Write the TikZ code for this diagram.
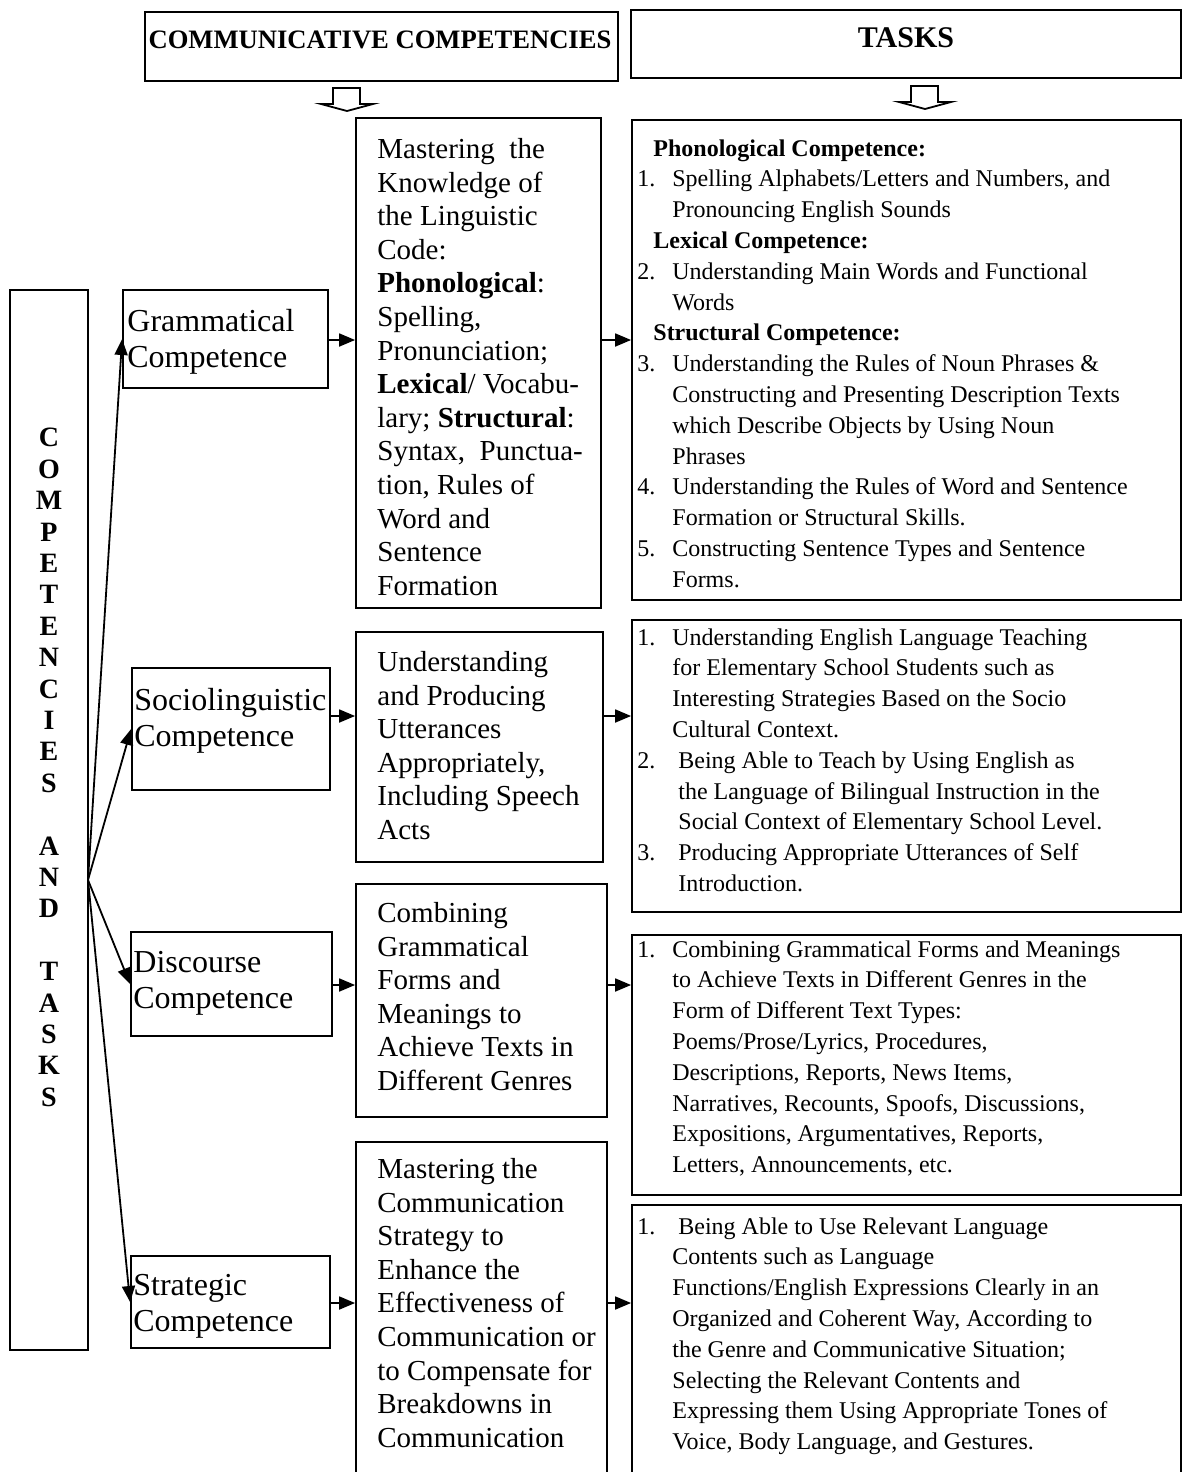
\documentclass[tikz,border=0pt]{standalone}
\usepackage{fontspec}
\setmainfont{Liberation Serif}
\usepackage{tikz}
\usetikzlibrary{arrows.meta, fit}

\newcommand{\nr}[1]{\makebox[17.5pt][l]{#1}}
\newcommand{\tind}{\hspace*{17.5pt}}
\newcommand{\hd}[1]{\hspace*{8pt}\textbf{#1}}

\begin{document}
\begin{tikzpicture}[
            x=0.5pt, y=-0.5pt,
            box/.style={draw, line width=0.9pt, inner sep=0pt},
            txt/.style={inner sep=0pt, align=left, anchor=north west},
            comptxt/.style={txt, font=\fontsize{16}{18}\selectfont},
            midtxt/.style={txt, font=\fontsize{14.5}{16.8}\selectfont},
            tasktxt/.style={txt, font=\fontsize{12}{15.4}\selectfont},
            headtxt/.style={inner sep=0pt, anchor=base, font=\fontsize{13.3}{16}\selectfont\bfseries},
            arr/.style={-{Triangle[length=8pt,width=6.5pt]}, line width=0.9pt},
            downarr/.pic={\draw[line width=0.9pt] (-14,0) -- (13,0) -- (13,16) -- (26,16)
                -- (0,23) -- (-26,16) -- (-14,16) -- cycle;}]

        \useasboundingbox (0,0) rectangle (1186,1472);
        \clip (0,0) rectangle (1186,1472);

        % Headers
        \node[box, fit={(145,12) (618,81)}]  (head1) {};
        \node[box, fit={(631,10) (1181,78)}] (head2) {};
        \node[headtxt] (head1txt) at (380,48) {COMMUNICATIVE COMPETENCIES};
        \node[headtxt, font=\fontsize{15}{18}\selectfont\bfseries] (head2txt) at (906,47) {TASKS};
        \pic at (347,88) {downarr};
        \pic at (925,86) {downarr};

        % Side box
        \node[box, fit={(10,290) (88,1350)}] (side) {};
        \node[inner sep=0pt, anchor=north, align=center, font=\fontsize{14}{15.7}\selectfont\bfseries]
            (sidetxt) at (49,428) {C\\O\\M\\P\\E\\T\\E\\N\\C\\I\\E\\S\\[15.7pt]A\\N\\D\\[15.7pt]T\\A\\S\\K\\S};

        % Competences
        \node[box, fit={(123,290) (328,388)}]  (comp1) {};
        \node[box, fit={(132,668) (330,790)}]  (comp2) {};
        \node[box, fit={(131,932) (332,1036)}] (comp3) {};
        \node[box, fit={(131,1256) (330,1348)}] (comp4) {};
        \node[comptxt] (comp1txt) at (127,309)  {Grammatical\\Competence};
        \node[comptxt] (comp2txt) at (134,688)  {Sociolinguistic\\Competence};
        \node[comptxt] (comp3txt) at (133,951)  {Discourse\\Competence};
        \node[comptxt] (comp4txt) at (133,1274) {Strategic\\Competence};

        % Middle boxes
        \node[box, fit={(356,118) (601,608)}]   (mid1) {};
        \node[box, fit={(356,632) (603,862)}]   (mid2) {};
        \node[box, fit={(356,884) (607,1117)}]  (mid3) {};
        \node[box, fit={(356,1142) (607,1480)}] (mid4) {};
        \node[midtxt] (mid1txt) at (377,138) {Mastering\ \ the\\Knowledge of\\the Linguistic\\Code:\\\textbf{Phonological}:\\Spelling,\\Pronunciation;\\\textbf{Lexical}/ Vocabu-\\lary; \textbf{Structural}:\\Syntax,\ \ Punctua-\\tion, Rules of\\Word and\\Sentence\\Formation};
        \node[midtxt] (mid2txt) at (377,651) {Understanding\\and Producing\\Utterances\\Appropriately,\\Including Speech\\Acts};
        \node[midtxt] (mid3txt) at (377,902) {Combining\\Grammatical\\Forms and\\Meanings to\\Achieve Texts in\\Different Genres};
        \node[midtxt] (mid4txt) at (377,1158) {Mastering the\\Communication\\Strategy to\\Enhance the\\Effectiveness of\\Communication or\\to Compensate for\\Breakdowns in\\Communication};

        % Task boxes
        \node[box, fit={(632,120) (1181,600)}]   (task1) {};
        \node[box, fit={(632,620) (1181,912)}]   (task2) {};
        \node[box, fit={(632,935) (1181,1195)}]  (task3) {};
        \node[box, fit={(632,1205) (1181,1480)}] (task4) {};
        \node[tasktxt] (task1txt) at (637,139) {\hd{Phonological Competence:}\\
            \nr{1.}Spelling Alphabets/Letters and Numbers, and\\
            \tind Pronouncing English Sounds\\
            \hd{Lexical Competence:}\\
            \nr{2.}Understanding Main Words and Functional\\
            \tind Words\\
            \hd{Structural Competence:}\\
            \nr{3.}Understanding the Rules of Noun Phrases \&\\
            \tind Constructing and Presenting Description Texts\\
            \tind which Describe Objects by Using Noun\\
            \tind Phrases\\
            \nr{4.}Understanding the Rules of Word and Sentence\\
            \tind Formation or Structural Skills.\\
            \nr{5.}Constructing Sentence Types and Sentence\\
            \tind Forms.};
        \node[tasktxt] (task2txt) at (637,628) {\nr{1.}Understanding English Language Teaching\\
            \tind for Elementary School Students such as\\
            \tind Interesting Strategies Based on the Socio\\
            \tind Cultural Context.\\
            \nr{2.}\ Being Able to Teach by Using English as\\
            \tind\ the Language of Bilingual Instruction in the\\
            \tind\ Social Context of Elementary School Level.\\
            \nr{3.}\ Producing Appropriate Utterances of Self\\
            \tind\ Introduction.};
        \node[tasktxt] (task3txt) at (637,940) {\nr{1.}Combining Grammatical Forms and Meanings\\
            \tind to Achieve Texts in Different Genres in the\\
            \tind Form of Different Text Types:\\
            \tind Poems/Prose/Lyrics, Procedures,\\
            \tind Descriptions, Reports, News Items,\\
            \tind Narratives, Recounts, Spoofs, Discussions,\\
            \tind Expositions, Argumentatives, Reports,\\
            \tind Letters, Announcements, etc.};
        \node[tasktxt] (task4txt) at (637,1217) {\nr{1.}\ Being Able to Use Relevant Language\\
            \tind Contents such as Language\\
            \tind Functions/English Expressions Clearly in an\\
            \tind Organized and Coherent Way, According to\\
            \tind the Genre and Communicative Situation;\\
            \tind Selecting the Relevant Contents and\\
            \tind Expressing them Using Appropriate Tones of\\
            \tind Voice, Body Language, and Gestures.};

        % Arrows
        \coordinate (fan) at (88,880);
        \foreach \i in {1,...,4}
            \draw[arr] (fan) -- (comp\i.west);

        \foreach \i/\y in {1/340, 2/716, 3/985, 4/1303} {
            \coordinate (row\i) at (0,\y);
            \draw[arr] (comp\i.east |- row\i) -- (mid\i.west |- row\i);
            \draw[arr] (mid\i.east |- row\i) -- (task\i.west |- row\i);
        }
    \end{tikzpicture}
\end{document}
